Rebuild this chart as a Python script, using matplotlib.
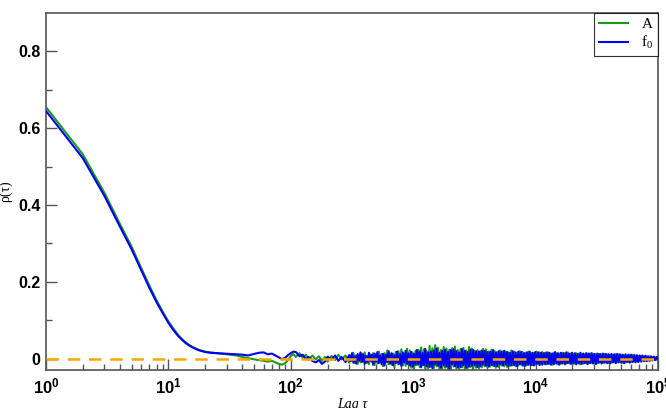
import numpy as np
import matplotlib
matplotlib.use("Agg")
import matplotlib.pyplot as plt
from matplotlib.ticker import FixedLocator, FixedFormatter, NullFormatter

plt.rcParams["mathtext.fontset"] = "custom"
plt.rcParams["mathtext.rm"] = "Liberation Serif"
plt.rcParams["mathtext.it"] = "Liberation Serif:italic"
plt.rcParams["mathtext.bf"] = "Liberation Sans:bold"

# --- data ------------------------------------------------------------------
# smooth decay at integer lags 1..19
lag_head = list(range(1, 20))
a_head = [0.655, 0.532, 0.432, 0.352, 0.292, 0.236, 0.190, 0.152, 0.122, 0.097,
          0.078, 0.062, 0.050, 0.041, 0.034, 0.029, 0.025, 0.022, 0.020]
f0_head = [0.645, 0.522, 0.424, 0.345, 0.285, 0.230, 0.184, 0.147, 0.118, 0.093,
           0.074, 0.059, 0.048, 0.039, 0.033, 0.028, 0.024, 0.021, 0.019]

# slow wiggles, lags 20..300
lag_mid = [20, 22, 25, 28, 32, 36, 40, 45, 50, 55, 60, 65, 70, 75, 80, 85, 90, 95,
           100, 105, 110, 118, 125, 133, 140, 150, 160, 170, 180, 190, 200, 215,
           230, 245, 260, 280]
a_mid = [0.018, 0.016, 0.014, 0.012, 0.010, 0.008, 0.004, 0.001, -0.002, -0.004,
         -0.006, -0.008, -0.006, -0.010, -0.014, -0.016, -0.012, -0.004, 0.006,
         0.012, 0.004, 0.014, 0.002, 0.010, -0.003, 0.008, -0.002, 0.006, -0.006,
         0.004, -0.008, 0.007, -0.004, 0.010, -0.002, 0.008]
f0_mid = [0.017, 0.015, 0.014, 0.013, 0.012, 0.011, 0.010, 0.008, 0.012, 0.015,
          0.016, 0.011, 0.013, 0.008, 0.003, -0.002, 0.002, 0.009, 0.014, 0.018,
          0.017, 0.006, 0.010, -0.002, 0.004, -0.006, -0.010, -0.004, -0.014,
          -0.008, 0.005, -0.003, 0.008, -0.006, 0.004, -0.009]

# fast noise, lags 300..1e5 (values in thousandths)
a_tail_k = """
-11 8 -6 15 -12 9 -14 7 -10 13  -8 16 -12 6 -15 11 -9 14 -17 10
-13 18 -9 12 -20 14 -11 21 -15 9  -16 13 -22 17 -10 19 -14 24 -18 12
-19 26 -15 21 -24 16 -28 20 -17 23  -22 29 -18 24 -31 19 -26 33 -21 27
-25 35 -20 28 -32 22 -27 30 -24 26  -29 23 -33 27 -21 31 -26 22 -30 25
-23 28 -27 21 -25 30 -22 26 -28 20  -24 22 -26 19 -23 25 -20 24 -22 18
-21 23 -19 20 -24 17 -22 21 -18 19  -20 18 -22 16 -19 21 -17 18 -20 15
-18 19 -16 17 -19 15 -17 18 -16 14  -17 15 -16 18 -14 16 -15 17 -13 15
-15 16 -14 13 -16 15 -13 14 -15 12  -14 15 -12 14 -13 16 -12 13 -14 12
-13 14 -12 13 -15 12 -13 11 -12 13  -12 13 -11 12 -13 11 -12 12 -10 11
-11 12 -10 11 -12 10 -11 10 -10 11  -10 11 -9 10 -11 9 -10 9 -9 10
-9 9 -8 8 -8 7 -7 7 -6 6  -6 6 -5 5 -5 4 -4 3 -3 2
"""
f0_tail_k = """
9 -7 14 -11 6 -13 12 -5 16 -9  11 -14 7 -10 15 -6 10 -16 13 -8
17 -12 8 -15 12 -18 10 -9 19 -13  14 -17 9 -12 18 -15 11 -19 16 -10
20 -14 13 -18 17 -21 12 -16 22 -15  19 -23 14 -17 25 -20 16 -22 18 -25
21 -16 26 -19 15 -24 20 -18 23 -21  17 -26 22 -15 24 -20 19 -23 16 -22
25 -18 20 -24 17 -21 23 -19 22 -17  19 -22 18 -20 21 -16 20 -19 17 -21
18 -17 22 -19 16 -20 19 -15 18 -18  20 -16 17 -19 15 -18 19 -17 16 -20
18 -15 17 -18 14 -19 16 -16 18 -17  15 -18 17 -14 16 -17 15 -16 14 -15
16 -14 15 -16 13 -15 17 -13 14 -16  15 -13 14 -15 16 -12 13 -14 15 -13
14 -15 12 -13 15 -14 13 -12 14 -15  13 -12 14 -13 12 -14 13 -11 12 -13
13 -11 12 -12 11 -13 12 -10 11 -12  12 -10 11 -11 10 -12 11 -9 10 -11
10 -9 9 -10 9 -9 8 -8 8 -7  7 -7 6 -6 6 -5 5 -4 4 -2
"""
a_tail = [int(v) / 1000 for v in a_tail_k.split()]
f0_tail = [int(v) / 1000 for v in f0_tail_k.split()]
lag_tail = np.geomspace(300, 1e5, len(a_tail))

lag = np.concatenate([lag_head, lag_mid, lag_tail])
acf_a = np.concatenate([a_head, a_mid, a_tail])
acf_f0 = np.concatenate([f0_head, f0_mid, f0_tail])

xticks = [1, 10, 100, 1000, 10000, 100000]
xlabels = [r"$\mathbf{10^{%d}}$" % k for k in range(6)]
yticks = [0, 0.2, 0.4, 0.6, 0.8]
ylabels = ["0", "0.2", "0.4", "0.6", "0.8"]

# --- plot ------------------------------------------------------------------
fig = plt.figure(figsize=(6.66, 4.08), dpi=100)
ax = fig.add_axes([0.069, 0.093, 0.919, 0.875])

ax.plot(lag, acf_a, color="#1a9a1a", lw=1.5, label="A", zorder=2)
ax.plot(lag, acf_f0, color="#0000ee", lw=1.5, label="f$_{0}$", zorder=3)
ax.axhline(0, color="#ffa500", lw=1.8, ls=(0, (5, 3.5)), zorder=4)

ax.set_xscale("log")
ax.set_xlim(1, 1e5)
ax.set_ylim(-0.03, 0.9)

ax.xaxis.set_major_locator(FixedLocator(xticks))
ax.xaxis.set_major_formatter(FixedFormatter(xlabels))
ax.xaxis.set_minor_formatter(NullFormatter())
ax.set_yticks(yticks)
ax.set_yticklabels(ylabels, fontfamily="Liberation Sans", fontweight="bold", fontsize=11.5)
ax.set_yticks([0.1, 0.3, 0.5, 0.7], minor=True)
for t in ax.get_xticklabels():
    t.set_fontsize(12)

ax.tick_params(which="both", direction="in", top=False, right=False, color="#555555", width=1)
ax.tick_params(which="major", length=8)
ax.tick_params(which="minor", length=4)
ax.tick_params(axis="x", pad=5)
ax.tick_params(axis="y", pad=4)
for s in ax.spines.values():
    s.set_color("#555555")
    s.set_linewidth(1.2)

ax.set_xlabel("Lag τ", fontfamily="Liberation Serif", fontstyle="italic", fontsize=10, labelpad=1)
ax.set_ylabel("ρ(τ)", fontfamily="Liberation Serif", fontsize=10, labelpad=4)

leg = ax.legend(loc="upper right", borderaxespad=0, fancybox=False, handlelength=1.9,
                handletextpad=0.9, borderpad=0.3, labelspacing=0.2,
                prop={"family": "Liberation Serif", "size": 11})
leg.get_frame().set_edgecolor("black")
leg.get_frame().set_linewidth(0.8)

fig.savefig("out.png", dpi=100)
